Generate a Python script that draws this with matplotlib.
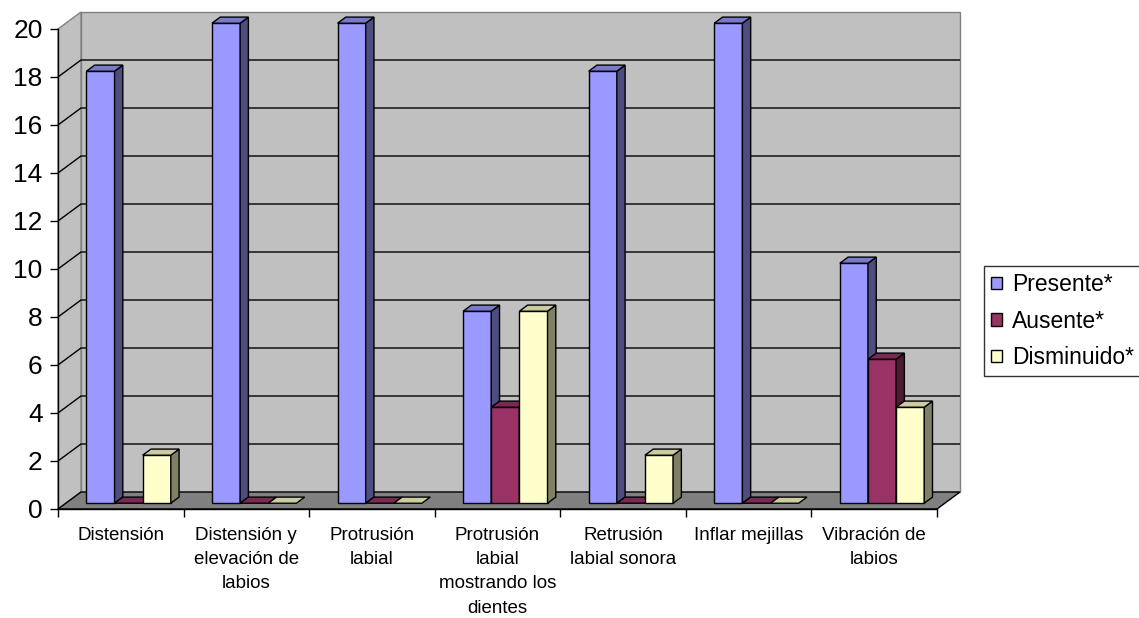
import matplotlib
matplotlib.use("Agg")
import matplotlib.pyplot as plt
from matplotlib.patches import Polygon, Patch

plt.rcParams['font.family'] = ['Liberation Sans', 'DejaVu Sans']

categories = [
    "Distensión",
    "Distensión y\nelevación de\nlabios",
    "Protrusión\nlabial",
    "Protrusión\nlabial\nmostrando los\ndientes",
    "Retrusión\nlabial sonora",
    "Inflar mejillas",
    "Vibración de\nlabios",
]
series_names = ["Presente*", "Ausente*", "Disminuido*"]
presente = [18, 20, 20, 8, 18, 20, 10]
ausente = [0, 0, 0, 4, 0, 0, 6]
disminuido = [2, 0, 0, 8, 2, 0, 4]
y_ticks = [0, 2, 4, 6, 8, 10, 12, 14, 16, 18, 20]

# face colours: front, top, side
palette = [
    ("#9999FF", "#7A7ACC", "#4D4D80"),
    ("#993366", "#7A2952", "#4D1933"),
    ("#FFFFCC", "#CCCCA3", "#808066"),
]

W, H, DPI = 1139, 618, 100
fig = plt.figure(figsize=(W / DPI, H / DPI), dpi=DPI)
ax = fig.add_axes([58 / W, 109 / H, 879 / W, 480 / H])
n = len(categories)
ymax = y_ticks[-1]
ax.set_xlim(0, n)
ax.set_ylim(0, ymax)

# depth of the 3-D box in data units
DX = 23 / (879 / n)
DY = 17 / (480 / ymax)

wall_c = "#C0C0C0"
floor_c = "#808080"
edge_grey = "#808080"

def poly(pts, fc, ec="black", lw=1.0, z=1):
    p = Polygon(pts, closed=True, facecolor=fc, edgecolor=ec, linewidth=lw,
                zorder=z, clip_on=False, joinstyle="miter")
    ax.add_patch(p)

# walls and floor
poly([(DX, DY), (n + DX, DY), (n + DX, ymax + DY), (DX, ymax + DY)], wall_c, edge_grey, 1.0, 0.5)
poly([(0, 0), (DX, DY), (DX, ymax + DY), (0, ymax)], wall_c, edge_grey, 1.0, 0.5)
poly([(0, 0), (n, 0), (n + DX, DY), (DX, DY)], floor_c, "black", 1.0, 0.6)

# gridlines on back and side wall
for t in y_ticks[1:-1]:
    ax.plot([0, DX, n + DX], [t, t + DY, t + DY], color="black", lw=1.0,
            zorder=0.7, clip_on=False, solid_capstyle="butt")

# bars
bw = 0.224
off = (1 - 3 * bw) / 2
d0, d1 = 0.34, 0.70
fx, fy = d0 * DX, d0 * DY
bx, by = d1 * DX, d1 * DY
data = [presente, ausente, disminuido]
for c in range(n):
    for s, vals in enumerate(data):
        v = vals[c]
        front, top, side = palette[s]
        x0 = c + off + s * bw
        x1 = x0 + bw
        if v > 0:
            poly([(x0 + fx, fy), (x1 + fx, fy), (x1 + fx, v + fy), (x0 + fx, v + fy)], front, z=2)
            poly([(x1 + fx, fy), (x1 + bx, by), (x1 + bx, v + by), (x1 + fx, v + fy)], side, z=2)
        poly([(x0 + fx, v + fy), (x1 + fx, v + fy), (x1 + bx, v + by), (x0 + bx, v + by)], top, z=2)

# axes
for sp in ["top", "right"]:
    ax.spines[sp].set_visible(False)
ax.spines["left"].set_linewidth(1.0)
ax.spines["bottom"].set_linewidth(1.0)
ax.spines["left"].set_zorder(3)
ax.spines["bottom"].set_zorder(3)
ax.set_yticks(y_ticks)
ax.tick_params(axis="y", direction="out", length=6, width=1.0, pad=5, labelsize=19)
ax.set_xticks(range(n + 1))
ax.set_xticklabels([])
ax.tick_params(axis="x", which="major", direction="out", length=6, width=1.0)
ax.set_xticks([c + 0.5 for c in range(n)], minor=True)
ax.set_xticklabels(categories, minor=True, fontsize=13.5, linespacing=1.55,
                   ha="center", va="top")
ax.tick_params(axis="x", which="minor", length=0, pad=13)
ax.set_facecolor("none")

handles = [Patch(facecolor=p[0], edgecolor="black", linewidth=1.0) for p in palette]
leg = fig.legend(handles, series_names, loc="upper left",
                 bbox_to_anchor=(984 / W, 1 - 266 / H), fontsize=16.5,
                 frameon=True, fancybox=False, handlelength=0.45, handleheight=0.45,
                 handletextpad=0.45, borderpad=0.32, labelspacing=0.58,
                 borderaxespad=0)
leg.get_frame().set_edgecolor("black")
leg.get_frame().set_linewidth(1.0)

fig.savefig("out.png", dpi=DPI, facecolor="white")
